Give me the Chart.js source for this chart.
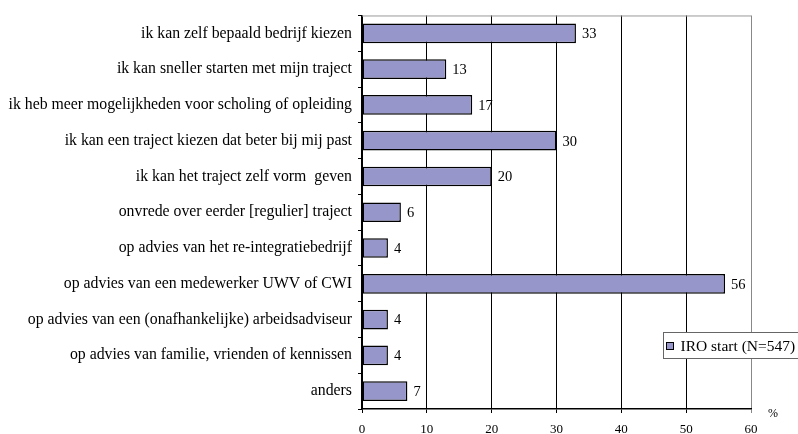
<!DOCTYPE html>
<html>
<head>
<meta charset="utf-8">
<script src="https://cdn.jsdelivr.net/npm/chart.js@4"></script>
<style>
  html, body { margin: 0; padding: 0; background: #fff; }
  #wrap { width: 798px; height: 434px; }
</style>
</head>
<body>
<div id="wrap"><canvas id="redenen"></canvas></div>
<script>
const categories = [
    'ik kan zelf bepaald bedrijf kiezen',
    'ik kan sneller starten met mijn traject',
    'ik heb meer mogelijkheden voor scholing of opleiding',
    'ik kan een traject kiezen dat beter bij mij past',
    'ik kan het traject zelf vorm  geven',
    'onvrede over eerder [regulier] traject',
    'op advies van het re-integratiebedrijf',
    'op advies van een medewerker UWV of CWI',
    'op advies van een (onafhankelijke) arbeidsadviseur',
    'op advies van familie, vrienden of kennissen',
    'anders'
];
const iroStart = [33, 13, 17, 30, 20, 6, 4, 56, 4, 4, 7];
const seriesLabel = 'IRO start (N=547)';
const xTicks = [0, 10, 20, 30, 40, 50, 60];

const serif = 'Liberation Serif, Times New Roman, serif';
const barColor = '#9696CA';

// waarden naast de balken, legenda en % teken
const extras = {
    id: 'extras',
    afterDatasetsDraw(chart) {
        const ctx = chart.ctx;
        const meta = chart.getDatasetMeta(0);
        ctx.save();
        ctx.font = '14.5px ' + serif;
        ctx.fillStyle = '#000';
        ctx.textBaseline = 'middle';
        meta.data.forEach(function (bar, i) {
            ctx.fillText(String(iroStart[i]), bar.x + 6, bar.y + 1);
        });
        ctx.restore();
    },
    afterDraw(chart) {
        const ctx = chart.ctx;
        const area = chart.chartArea;
        ctx.save();
        // bovenrand
        ctx.strokeStyle = '#999';
        ctx.lineWidth = 1;
        ctx.beginPath();
        ctx.moveTo(area.left, area.top + 0.5);
        ctx.lineTo(area.right, area.top + 0.5);
        ctx.stroke();

        // legenda
        const lx = 663.5, ly = 332.5, lw = 140, lh = 26;
        ctx.fillStyle = '#fff';
        ctx.fillRect(lx, ly, lw, lh);
        ctx.strokeStyle = '#666';
        ctx.strokeRect(lx, ly, lw, lh);
        ctx.fillStyle = barColor;
        ctx.fillRect(lx + 3, ly + 10, 7, 7);
        ctx.strokeStyle = '#000';
        ctx.strokeRect(lx + 3, ly + 10, 7, 7);
        ctx.fillStyle = '#000';
        ctx.font = '15.5px ' + serif;
        ctx.textBaseline = 'middle';
        ctx.fillText(seriesLabel, lx + 17, ly + lh / 2 + 1);

        // eenheid
        ctx.font = '12px ' + serif;
        ctx.fillText('%', 768, 414);
        ctx.restore();
    }
};

new Chart(document.getElementById('redenen'), {
    type: 'bar',
    data: {
        labels: categories,
        datasets: [{
            label: seriesLabel,
            data: iroStart,
            backgroundColor: barColor,
            borderColor: '#000',
            borderWidth: 1.5,
            borderSkipped: false,
            categoryPercentage: 1,
            barPercentage: 0.55
        }]
    },
    options: {
        indexAxis: 'y',
        responsive: true,
        maintainAspectRatio: false,
        animation: false,
        layout: { padding: { top: 14, right: 47, left: 0, bottom: 0 } },
        plugins: {
            legend: { display: false },
            tooltip: { enabled: false }
        },
        scales: {
            x: {
                min: 0,
                max: 60,
                afterBuildTicks(axis) {
                    axis.ticks = xTicks.map(v => ({ value: v }));
                },
                afterFit(axis) { axis.height = 25; },
                grid: {
                    color: ctx => (ctx.tick && ctx.tick.value === 60) ? '#888' : '#000',
                    lineWidth: 1,
                    tickLength: 4
                },
                border: { color: '#000', width: 1.5 },
                ticks: {
                    color: '#000',
                    padding: 9,
                    font: { family: serif, size: 13 }
                }
            },
            y: {
                afterFit(axis) { axis.width = 362; },
                grid: {
                    offset: true,
                    drawOnChartArea: false,
                    color: '#000',
                    tickLength: 4
                },
                border: { color: '#000', width: 1.5 },
                ticks: {
                    color: '#000',
                    padding: 6,
                    font: { family: serif, size: 15.8 }
                }
            }
        }
    },
    plugins: [extras]
});
</script>
</body>
</html>
